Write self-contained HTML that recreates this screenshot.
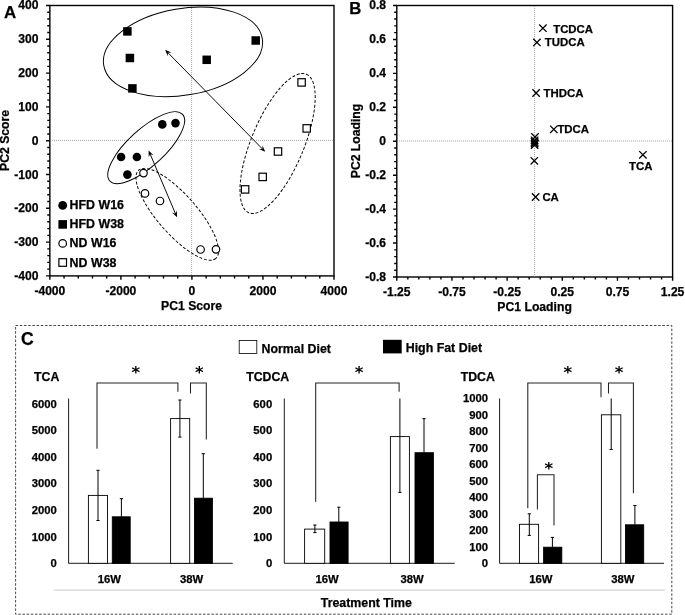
<!DOCTYPE html>
<html lang="en"><head><meta charset="utf-8"><title>Figure</title>
<style>html,body{margin:0;padding:0;background:#fff}svg{display:block}</style>
</head><body>
<svg width="685" height="615" viewBox="0 0 685 615">
<rect width="685" height="615" fill="#fff"/>
<g stroke="#000" stroke-width="1.4" fill="none">
<rect x="49.85" y="5.5" width="284.15" height="270.4"/>
<path d="M49.85 275.9v3.8M64.06 275.9v2.6M78.27 275.9v2.6M92.47 275.9v2.6M106.68 275.9v2.6M120.89 275.9v3.8M135.09 275.9v2.6M149.3 275.9v2.6M163.51 275.9v2.6M177.72 275.9v2.6M191.92 275.9v3.8M206.13 275.9v2.6M220.34 275.9v2.6M234.55 275.9v2.6M248.75 275.9v2.6M262.96 275.9v3.8M277.17 275.9v2.6M291.38 275.9v2.6M305.58 275.9v2.6M319.79 275.9v2.6M334 275.9v3.8M49.85 5.5h-3.8M49.85 12.26h-2.6M49.85 19.02h-2.6M49.85 25.78h-2.6M49.85 32.54h-2.6M49.85 39.3h-3.8M49.85 46.06h-2.6M49.85 52.82h-2.6M49.85 59.58h-2.6M49.85 66.34h-2.6M49.85 73.1h-3.8M49.85 79.86h-2.6M49.85 86.62h-2.6M49.85 93.38h-2.6M49.85 100.14h-2.6M49.85 106.9h-3.8M49.85 113.66h-2.6M49.85 120.42h-2.6M49.85 127.18h-2.6M49.85 133.94h-2.6M49.85 140.7h-3.8M49.85 147.46h-2.6M49.85 154.22h-2.6M49.85 160.98h-2.6M49.85 167.74h-2.6M49.85 174.5h-3.8M49.85 181.26h-2.6M49.85 188.02h-2.6M49.85 194.78h-2.6M49.85 201.54h-2.6M49.85 208.3h-3.8M49.85 215.06h-2.6M49.85 221.82h-2.6M49.85 228.58h-2.6M49.85 235.34h-2.6M49.85 242.1h-3.8M49.85 248.86h-2.6M49.85 255.62h-2.6M49.85 262.38h-2.6M49.85 269.14h-2.6M49.85 275.9h-3.8"/>
</g>
<g stroke="#808080" stroke-width="0.7" stroke-dasharray="1 1" fill="none"><path d="M50 140.4H334M191.6 6V275.9"/></g>
<g font-family="Liberation Sans, Arial, Helvetica, sans-serif" font-weight="bold" stroke="#000" stroke-width="0.25" font-size="12.1" fill="#000">
<text x="38.45" y="9.2" text-anchor="end">400</text>
<text x="38.45" y="43.3" text-anchor="end">300</text>
<text x="38.45" y="77.1" text-anchor="end">200</text>
<text x="38.45" y="110.9" text-anchor="end">100</text>
<text x="38.45" y="144.7" text-anchor="end">0</text>
<text x="38.45" y="178.5" text-anchor="end">-100</text>
<text x="38.45" y="212.3" text-anchor="end">-200</text>
<text x="38.45" y="246.1" text-anchor="end">-300</text>
<text x="38.45" y="279.9" text-anchor="end">-400</text>
<text x="49.85" y="294.5" text-anchor="middle">-4000</text>
<text x="120.89" y="294.5" text-anchor="middle">-2000</text>
<text x="191.92" y="294.5" text-anchor="middle">0</text>
<text x="262.96" y="294.5" text-anchor="middle">2000</text>
<text x="334" y="294.5" text-anchor="middle">4000</text>
<text x="191.6" y="309.6" text-anchor="middle" font-size="12.2">PC1 Score</text>
<text transform="translate(9.2 140.4) rotate(-90)" text-anchor="middle" font-size="12.2">PC2 Score</text>
</g>
<text x="4" y="18.2" font-family="Liberation Sans, Arial, Helvetica, sans-serif" font-weight="bold" stroke="#000" stroke-width="0.25" font-size="16.6" textLength="12.2" lengthAdjust="spacingAndGlyphs">A</text>
<g stroke="#000" stroke-width="0.95" fill="none">
<ellipse cx="183" cy="51.9" rx="80.4" ry="43.3" transform="rotate(-9.7 183 51.9)"/>
<ellipse cx="146.2" cy="147.7" rx="49.3" ry="18.3" transform="rotate(-42.5 146.2 147.7)"/>
<g stroke-dasharray="3 1.8">
<ellipse cx="177.3" cy="214.3" rx="58.6" ry="19.6" transform="rotate(48.8 177.3 214.3)"/>
<ellipse cx="277.6" cy="143.5" rx="75" ry="26.3" transform="rotate(-67.5 277.6 143.5)"/>
</g>
<path d="M166.5 51.23L263.8 150.37"/>
<path d="M165.1 49.8L167.73 56.19L167.88 52.63L171.44 52.55Z" fill="#000" stroke="none"/>
<path d="M265.2 151.8L258.86 149.05L262.42 148.97L262.57 145.41Z" fill="#000" stroke="none"/>
<path d="M149.38 152.24L176.22 215.46"/>
<path d="M148.6 150.4L148.71 157.31L150.15 154.05L153.49 155.28Z" fill="#000" stroke="none"/>
<path d="M177 217.3L172.11 212.42L175.45 213.65L176.89 210.39Z" fill="#000" stroke="none"/>
</g>
<rect x="123.15" y="27.15" width="8.5" height="8.5" fill="#000"/>
<rect x="125.65" y="53.75" width="8.5" height="8.5" fill="#000"/>
<rect x="128.15" y="84.15" width="8.5" height="8.5" fill="#000"/>
<rect x="202.45" y="55.55" width="8.5" height="8.5" fill="#000"/>
<rect x="251.45" y="36.25" width="8.5" height="8.5" fill="#000"/>
<circle cx="162.3" cy="124.4" r="4.3" fill="#000"/>
<circle cx="175.5" cy="123.1" r="4.3" fill="#000"/>
<circle cx="121.1" cy="157" r="4.3" fill="#000"/>
<circle cx="136.9" cy="157" r="4.3" fill="#000"/>
<circle cx="127.4" cy="174.6" r="4.3" fill="#000"/>
<circle cx="143.5" cy="173.1" r="3.75" fill="#fff" stroke="#000" stroke-width="1.2"/>
<circle cx="145" cy="193.4" r="3.75" fill="#fff" stroke="#000" stroke-width="1.2"/>
<circle cx="160" cy="201" r="3.75" fill="#fff" stroke="#000" stroke-width="1.2"/>
<circle cx="200.6" cy="249.5" r="3.75" fill="#fff" stroke="#000" stroke-width="1.2"/>
<circle cx="216" cy="249.3" r="3.75" fill="#fff" stroke="#000" stroke-width="1.2"/>
<rect x="297.9" y="78.7" width="7.4" height="7.4" fill="#fff" stroke="#000" stroke-width="1.2"/>
<rect x="303" y="124.7" width="7.4" height="7.4" fill="#fff" stroke="#000" stroke-width="1.2"/>
<rect x="274.3" y="147.8" width="7.4" height="7.4" fill="#fff" stroke="#000" stroke-width="1.2"/>
<rect x="259" y="173.2" width="7.4" height="7.4" fill="#fff" stroke="#000" stroke-width="1.2"/>
<rect x="241.4" y="185.7" width="7.4" height="7.4" fill="#fff" stroke="#000" stroke-width="1.2"/>
<g font-family="Liberation Sans, Arial, Helvetica, sans-serif" font-weight="bold" stroke="#000" stroke-width="0.25" font-size="12.4" fill="#000">
<text x="69.6" y="209">HFD W16</text>
<text x="69.6" y="228.3">HFD W38</text>
<text x="69.6" y="247.4">ND W16</text>
<text x="69.6" y="266.5">ND W38</text>
</g>
<circle cx="62.7" cy="205.4" r="4.4" fill="#000"/>
<rect x="58.4" y="220.1" width="8.6" height="8.6" fill="#000"/>
<circle cx="62.7" cy="243.4" r="3.8" fill="#fff" stroke="#000" stroke-width="1.2"/>
<rect x="58.9" y="258.7" width="7.6" height="7.6" fill="#fff" stroke="#000" stroke-width="1.2"/>
<g stroke="#000" stroke-width="1.4" fill="none">
<rect x="396.8" y="5.5" width="275.8" height="271.5"/>
<path d="M396.8 277v3.8M407.83 277v2.6M418.86 277v2.6M429.9 277v2.6M440.93 277v2.6M451.96 277v3.8M462.99 277v2.6M474.02 277v2.6M485.06 277v2.6M496.09 277v2.6M507.12 277v3.8M518.15 277v2.6M529.18 277v2.6M540.22 277v2.6M551.25 277v2.6M562.28 277v3.8M573.31 277v2.6M584.34 277v2.6M595.38 277v2.6M606.41 277v2.6M617.44 277v3.8M628.47 277v2.6M639.5 277v2.6M650.54 277v2.6M661.57 277v2.6M672.6 277v3.8M396.8 5.5h-3.8M396.8 12.29h-2.6M396.8 19.07h-2.6M396.8 25.86h-2.6M396.8 32.65h-2.6M396.8 39.44h-3.8M396.8 46.23h-2.6M396.8 53.01h-2.6M396.8 59.8h-2.6M396.8 66.59h-2.6M396.8 73.38h-3.8M396.8 80.16h-2.6M396.8 86.95h-2.6M396.8 93.74h-2.6M396.8 100.53h-2.6M396.8 107.31h-3.8M396.8 114.1h-2.6M396.8 120.89h-2.6M396.8 127.67h-2.6M396.8 134.46h-2.6M396.8 141.25h-3.8M396.8 148.04h-2.6M396.8 154.82h-2.6M396.8 161.61h-2.6M396.8 168.4h-2.6M396.8 175.19h-3.8M396.8 181.97h-2.6M396.8 188.76h-2.6M396.8 195.55h-2.6M396.8 202.34h-2.6M396.8 209.12h-3.8M396.8 215.91h-2.6M396.8 222.7h-2.6M396.8 229.49h-2.6M396.8 236.28h-2.6M396.8 243.06h-3.8M396.8 249.85h-2.6M396.8 256.64h-2.6M396.8 263.43h-2.6M396.8 270.21h-2.6M396.8 277h-3.8"/>
</g>
<g stroke="#808080" stroke-width="0.7" stroke-dasharray="1 1" fill="none"><path d="M397 141H672.6M534.6 6V277"/></g>
<g font-family="Liberation Sans, Arial, Helvetica, sans-serif" font-weight="bold" stroke="#000" stroke-width="0.25" font-size="12.1" fill="#000">
<text x="386" y="9.2" text-anchor="end">0.8</text>
<text x="386" y="43.44" text-anchor="end">0.6</text>
<text x="386" y="77.38" text-anchor="end">0.4</text>
<text x="386" y="111.31" text-anchor="end">0.2</text>
<text x="386" y="145.25" text-anchor="end">0</text>
<text x="386" y="179.19" text-anchor="end">-0.2</text>
<text x="386" y="213.12" text-anchor="end">-0.4</text>
<text x="386" y="247.06" text-anchor="end">-0.6</text>
<text x="386" y="281" text-anchor="end">-0.8</text>
<text x="396.8" y="295.6" text-anchor="middle">-1.25</text>
<text x="451.96" y="295.6" text-anchor="middle">-0.75</text>
<text x="507.12" y="295.6" text-anchor="middle">-0.25</text>
<text x="562.28" y="295.6" text-anchor="middle">0.25</text>
<text x="617.44" y="295.6" text-anchor="middle">0.75</text>
<text x="672.6" y="295.6" text-anchor="middle">1.25</text>
<text x="534.6" y="310.7" text-anchor="middle" font-size="12.2">PC1 Loading</text>
<text transform="translate(360.1 141) rotate(-90)" text-anchor="middle" font-size="12.2">PC2 Loading</text>
</g>
<text x="349.2" y="14.2" font-family="Liberation Sans, Arial, Helvetica, sans-serif" font-weight="bold" stroke="#000" stroke-width="0.25" font-size="16.7">B</text>
<path d="M539.2 24.5L546.6 31.9M539.2 31.9L546.6 24.5" stroke="#000" stroke-width="1.3" fill="none"/>
<path d="M533.2 38.7L540.6 46.1M533.2 46.1L540.6 38.7" stroke="#000" stroke-width="1.3" fill="none"/>
<path d="M532.4 89.3L539.8 96.7M532.4 96.7L539.8 89.3" stroke="#000" stroke-width="1.3" fill="none"/>
<path d="M550.1 125.6L557.5 133M550.1 133L557.5 125.6" stroke="#000" stroke-width="1.3" fill="none"/>
<path d="M531.3 133.3L538.7 140.7M531.3 140.7L538.7 133.3" stroke="#000" stroke-width="1.3" fill="none"/>
<path d="M530.9 136.6L538.3 144M530.9 144L538.3 136.6" stroke="#000" stroke-width="1.3" fill="none"/>
<path d="M530.9 138.3L538.3 145.7M530.9 145.7L538.3 138.3" stroke="#000" stroke-width="1.3" fill="none"/>
<path d="M530.9 139.8L538.3 147.2M530.9 147.2L538.3 139.8" stroke="#000" stroke-width="1.3" fill="none"/>
<path d="M530.9 141.3L538.3 148.7M530.9 148.7L538.3 141.3" stroke="#000" stroke-width="1.3" fill="none"/>
<path d="M530.6 157.1L538 164.5M530.6 164.5L538 157.1" stroke="#000" stroke-width="1.3" fill="none"/>
<path d="M531.9 193.3L539.3 200.7M531.9 200.7L539.3 193.3" stroke="#000" stroke-width="1.3" fill="none"/>
<path d="M639.2 151.1L646.6 158.5M639.2 158.5L646.6 151.1" stroke="#000" stroke-width="1.3" fill="none"/>
<g font-family="Liberation Sans, Arial, Helvetica, sans-serif" font-weight="bold" stroke="#000" stroke-width="0.25" font-size="11.4" fill="#000">
<text x="553.2" y="32.6">TCDCA</text>
<text x="544.8" y="46.2">TUDCA</text>
<text x="543.5" y="96.7">THDCA</text>
<text x="557.4" y="132.9">TDCA</text>
<text x="542.4" y="201">CA</text>
<text x="629" y="170.1">TCA</text>
</g>
<rect x="15.6" y="325.5" width="656.2" height="288.7" fill="none" stroke="#333" stroke-width="0.9" stroke-dasharray="2.5 1.7"/>
<text x="21.1" y="345.3" font-family="Liberation Sans, Arial, Helvetica, sans-serif" font-weight="bold" stroke="#000" stroke-width="0.25" font-size="17.6">C</text>
<rect x="239.2" y="340.5" width="17.6" height="13" fill="#fff" stroke="#000" stroke-width="0.8"/>
<rect x="383" y="339.8" width="18.7" height="13.6" fill="#000"/>
<g font-family="Liberation Sans, Arial, Helvetica, sans-serif" font-weight="bold" stroke="#000" stroke-width="0.25" font-size="12.35" fill="#000">
<text x="261.6" y="352.6">Normal Diet</text>
<text x="405.7" y="352" font-size="12.4">High Fat Diet</text>
<text x="34" y="380.7" font-size="12.3">TCA</text>
<text x="246.2" y="380.7" font-size="12.3">TCDCA</text>
<text x="460.7" y="380.7" font-size="12.3">TDCA</text>
<text x="320.8" y="607.3">Treatment Time</text>
</g>
<path d="M53.5 590.1H665.3" stroke="#d4d4d4" stroke-width="1.2" fill="none"/>
<path d="M68.6 398.5V563.3H232.7" stroke="#000" stroke-width="0.9" fill="none"/>
<g font-family="Liberation Sans, Arial, Helvetica, sans-serif" font-weight="bold" stroke="#000" stroke-width="0.25" font-size="11.3" fill="#000">
<text x="56.8" y="567.2" text-anchor="end">0</text>
<text x="56.8" y="540.6" text-anchor="end">1000</text>
<text x="56.8" y="514" text-anchor="end">2000</text>
<text x="56.8" y="487.4" text-anchor="end">3000</text>
<text x="56.8" y="460.8" text-anchor="end">4000</text>
<text x="56.8" y="434.2" text-anchor="end">5000</text>
<text x="56.8" y="407.6" text-anchor="end">6000</text>
<text x="109.3" y="582.9" text-anchor="middle">16W</text>
<text x="191.5" y="582.9" text-anchor="middle">38W</text>
</g>
<rect x="88.4" y="495.4" width="19.1" height="67.9" fill="#fff" stroke="#000" stroke-width="0.9"/>
<rect x="112.3" y="516.8" width="17.9" height="46.5" fill="#000" stroke="#000" stroke-width="0.9"/>
<rect x="170.6" y="418.6" width="19.1" height="144.7" fill="#fff" stroke="#000" stroke-width="0.9"/>
<rect x="194.5" y="498.2" width="17.9" height="65.1" fill="#000" stroke="#000" stroke-width="0.9"/>
<path d="M98 470.3V520.5M96.4 470.3h3.2M96.4 520.5h3.2M121.4 498.7V516.8M119.8 498.7h3.2M179.9 400V437.1M178.3 400h3.2M178.3 437.1h3.2M203.3 453.7V498.2M201.7 453.7h3.2" stroke="#000" stroke-width="1" fill="none"/>
<path d="M97 448.7V382.9H177.9V391.7M190.5 393.4V382.9H206.3V439.4" stroke="#222" stroke-width="1.05" fill="none"/>
<text x="135.7" y="378.1" text-anchor="middle" font-family="DejaVu Sans, sans-serif" font-weight="bold" font-size="16.5" fill="#000">*</text>
<text x="199.2" y="378.1" text-anchor="middle" font-family="DejaVu Sans, sans-serif" font-weight="bold" font-size="16.5" fill="#000">*</text>
<path d="M284.3 398.5V563.3H454.7" stroke="#000" stroke-width="0.9" fill="none"/>
<g font-family="Liberation Sans, Arial, Helvetica, sans-serif" font-weight="bold" stroke="#000" stroke-width="0.25" font-size="11.3" fill="#000">
<text x="272.2" y="567.2" text-anchor="end">0</text>
<text x="272.2" y="540.6" text-anchor="end">100</text>
<text x="272.2" y="514" text-anchor="end">200</text>
<text x="272.2" y="487.4" text-anchor="end">300</text>
<text x="272.2" y="460.8" text-anchor="end">400</text>
<text x="272.2" y="434.2" text-anchor="end">500</text>
<text x="272.2" y="407.6" text-anchor="end">600</text>
<text x="327" y="582.9" text-anchor="middle">16W</text>
<text x="412" y="582.9" text-anchor="middle">38W</text>
</g>
<rect x="304.6" y="529.1" width="20.1" height="34.2" fill="#fff" stroke="#000" stroke-width="0.9"/>
<rect x="330" y="522" width="18.1" height="41.3" fill="#000" stroke="#000" stroke-width="0.9"/>
<rect x="390.4" y="436.6" width="19" height="126.7" fill="#fff" stroke="#000" stroke-width="0.9"/>
<rect x="415" y="452.7" width="18.4" height="110.6" fill="#000" stroke="#000" stroke-width="0.9"/>
<path d="M314.9 525V532.6M313.3 525h3.2M313.3 532.6h3.2M338.8 507.2V522M337.2 507.2h3.2M399.9 398.5V492.4M398.3 492.4h3.2M424 418.6V452.7M422.4 418.6h3.2" stroke="#000" stroke-width="1" fill="none"/>
<path d="M315.7 501.7V382.9H399.1V391.7" stroke="#222" stroke-width="1.05" fill="none"/>
<text x="359.1" y="378.1" text-anchor="middle" font-family="DejaVu Sans, sans-serif" font-weight="bold" font-size="16.5" fill="#000">*</text>
<path d="M499.6 398.5V563.3H664" stroke="#000" stroke-width="0.9" fill="none"/>
<g font-family="Liberation Sans, Arial, Helvetica, sans-serif" font-weight="bold" stroke="#000" stroke-width="0.25" font-size="11.3" fill="#000">
<text x="488.1" y="567.2" text-anchor="end">0</text>
<text x="488.1" y="550.7" text-anchor="end">100</text>
<text x="488.1" y="534.2" text-anchor="end">200</text>
<text x="488.1" y="517.7" text-anchor="end">300</text>
<text x="488.1" y="501.2" text-anchor="end">400</text>
<text x="488.1" y="484.7" text-anchor="end">500</text>
<text x="488.1" y="468.2" text-anchor="end">600</text>
<text x="488.1" y="451.7" text-anchor="end">700</text>
<text x="488.1" y="435.2" text-anchor="end">800</text>
<text x="488.1" y="418.7" text-anchor="end">900</text>
<text x="488.1" y="402.2" text-anchor="end">1000</text>
<text x="540.9" y="582.9" text-anchor="middle">16W</text>
<text x="622.8" y="582.9" text-anchor="middle">38W</text>
</g>
<rect x="519.5" y="524.3" width="19.1" height="39" fill="#fff" stroke="#000" stroke-width="0.9"/>
<rect x="543.6" y="547.2" width="18.2" height="16.1" fill="#000" stroke="#000" stroke-width="0.9"/>
<rect x="601.4" y="414.8" width="19.4" height="148.5" fill="#fff" stroke="#000" stroke-width="0.9"/>
<rect x="625.5" y="524.8" width="18.2" height="38.5" fill="#000" stroke="#000" stroke-width="0.9"/>
<path d="M529.3 513.8V535.4M527.7 513.8h3.2M527.7 535.4h3.2M552.4 537.4V547.2M550.8 537.4h3.2M611.2 398.5V449.5M609.6 449.5h3.2M634.9 505.5V524.8M633.3 505.5h3.2" stroke="#000" stroke-width="1" fill="none"/>
<path d="M527.8 508.2V382.9H601V397.2M608.5 393.4V382.9H633.4V493.2M537.4 509.5V474.8H554V525.6" stroke="#222" stroke-width="1.05" fill="none"/>
<text x="567.8" y="378.1" text-anchor="middle" font-family="DejaVu Sans, sans-serif" font-weight="bold" font-size="16.5" fill="#000">*</text>
<text x="619" y="378.1" text-anchor="middle" font-family="DejaVu Sans, sans-serif" font-weight="bold" font-size="16.5" fill="#000">*</text>
<text x="548.9" y="473.8" text-anchor="middle" font-family="DejaVu Sans, sans-serif" font-weight="bold" font-size="16.5" fill="#000">*</text>
</svg>
</body></html>
